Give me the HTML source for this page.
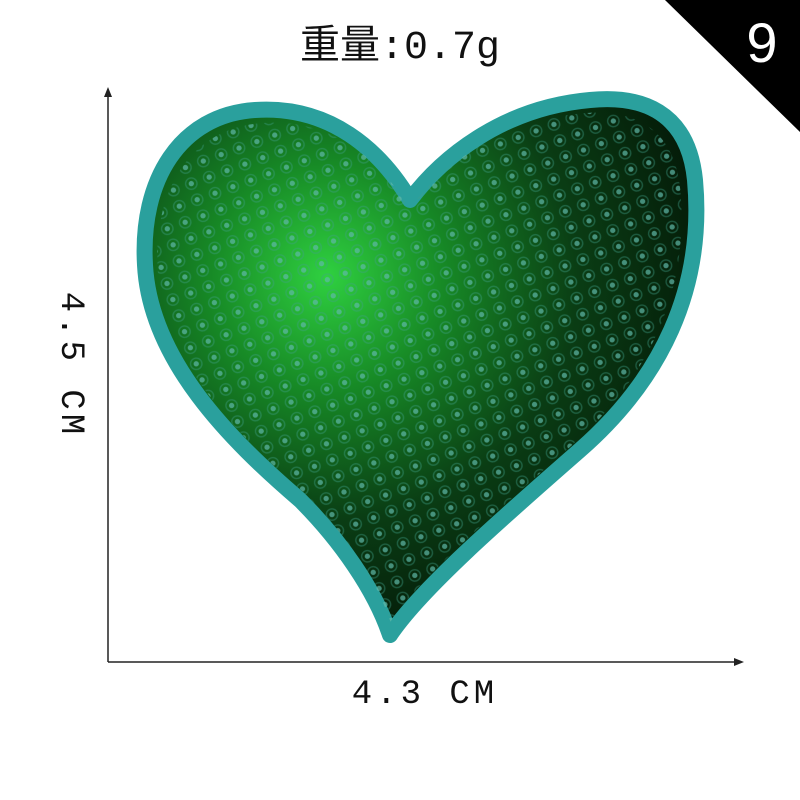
<!DOCTYPE html>
<html>
<head>
<meta charset="utf-8">
<style>
  html,body{margin:0;padding:0;background:#fff;}
  svg{display:block;}
</style>
</head>
<body>
<svg width="800" height="800" viewBox="0 0 800 800">
  <defs>
    <radialGradient id="g1" cx="0.33" cy="0.33" r="0.7">
      <stop offset="0" stop-color="#2fd040"/>
      <stop offset="0.3" stop-color="#178a26"/>
      <stop offset="0.65" stop-color="#0a3d14"/>
      <stop offset="1" stop-color="#041a08"/>
    </radialGradient>
    <pattern id="dots" width="20" height="18" patternUnits="userSpaceOnUse" patternTransform="rotate(-20)">
      <circle cx="10" cy="9" r="6" fill="none" stroke="#3f9f8a" stroke-opacity="0.4" stroke-width="1.5"/>
      <circle cx="10" cy="9" r="2.8" fill="#5fb8a8" fill-opacity="0.7"/>
    </pattern>
  </defs>

  <rect x="0" y="0" width="800" height="800" fill="#fff"/>

  <text x="400" y="58" text-anchor="middle" font-family="'Liberation Mono','Noto Sans CJK SC',monospace" font-size="40" fill="#111">重量:0.7g</text>

  <polygon points="665,0 800,0 800,132" fill="#000"/>
  <text x="762" y="62" text-anchor="middle" font-family="'Liberation Sans',sans-serif" font-size="56" fill="#fff">9</text>

  <g>
    <path d="M410,200 C380,150 330,105 255,110 C180,115 140,180 145,265 C150,360 230,440 300,500 C340,540 375,590 390,635 C420,590 500,520 580,450 C660,380 705,290 695,180 C688,110 640,95 590,100 C500,108 440,160 410,200 Z"
      fill="url(#g1)" stroke="#2aa09d" stroke-width="16" stroke-linejoin="round"/>
    <path d="M410,200 C380,150 330,105 255,110 C180,115 140,180 145,265 C150,360 230,440 300,500 C340,540 375,590 390,635 C420,590 500,520 580,450 C660,380 705,290 695,180 C688,110 640,95 590,100 C500,108 440,160 410,200 Z"
      fill="url(#dots)" transform="translate(400,370) scale(0.95) translate(-400,-370)"/>
  </g>

  <g stroke="#222" stroke-width="1.5" fill="#222">
    <line x1="108" y1="95" x2="108" y2="662"/>
    <polygon points="108,87 104,97 112,97" stroke="none"/>
    <line x1="108" y1="662" x2="736" y2="662"/>
    <polygon points="744,662 734,658 734,666" stroke="none"/>
  </g>

  <text x="0" y="0" transform="translate(62,365) rotate(90)" text-anchor="middle" letter-spacing="4" font-family="'Liberation Mono',monospace" font-size="34" fill="#111">4.5 CM</text>
  <text x="425" y="703" text-anchor="middle" letter-spacing="4" font-family="'Liberation Mono',monospace" font-size="34" fill="#111">4.3 CM</text>
</svg>
</body>
</html>
